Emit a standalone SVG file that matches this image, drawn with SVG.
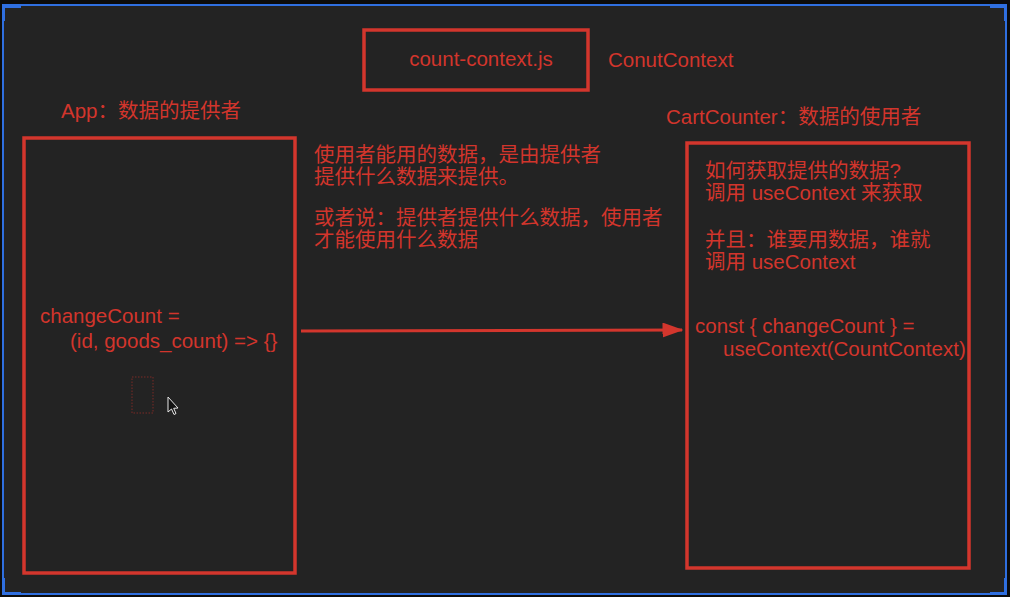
<svg xmlns="http://www.w3.org/2000/svg" width="1010" height="597" viewBox="0 0 1010 597">
  <defs>
    <style>
      .c { font-family: "Liberation Sans", "Noto Sans CJK SC", sans-serif; font-size: 20.5px; fill: #d2352c; }
      .box { fill: none; stroke: #d3362d; stroke-width: 3.5; }
      .frame { fill: none; stroke: #2f6fe0; stroke-width: 2; }
    </style>
    <marker id="ah" viewBox="0 0 14 10" refX="13" refY="5" markerWidth="7" markerHeight="5" markerUnits="strokeWidth" orient="auto">
      <path d="M0,0 L14,5 L0,10 z" fill="#d3362d"/>
    </marker>
  </defs>

  <rect x="0" y="0" width="1010" height="597" fill="#0c0c0c"/>
  <rect x="3" y="5" width="1003" height="589" fill="#232323"/>
  <rect class="frame" x="3" y="5" width="1003" height="589"/>
  <rect x="3" y="5" width="18" height="3" fill="#2f6fe0"/>
  <rect x="3" y="5" width="2" height="16" fill="#2f6fe0"/>
  <rect x="990" y="5" width="16" height="3" fill="#2f6fe0"/>
  <rect x="1004" y="5" width="2" height="16" fill="#2f6fe0"/>
  <rect x="3" y="578" width="2" height="16" fill="#2f6fe0"/>
  <rect x="3" y="592" width="18" height="2" fill="#2f6fe0"/>
  <rect x="1004" y="578" width="2" height="16" fill="#2f6fe0"/>
  <rect x="990" y="592" width="16" height="2" fill="#2f6fe0"/>

  <g id="count-context">
    <rect class="box" x="364" y="30" width="224" height="60"/>
    <text class="c" x="481" y="66" text-anchor="middle">count-context.js</text>
    <text class="c" x="608" y="67">ConutContext</text>
  </g>

  <g id="app">
    <text class="c" x="61" y="118">App：数据的提供者</text>
    <rect class="box" x="24" y="138" width="271" height="435"/>
    <text class="c" x="40" y="323">changeCount =</text>
    <text class="c" x="70" y="348">(id, goods_count) =&gt; {}</text>
    <rect x="132" y="377" width="21" height="36" fill="none" stroke="#7a2a26" stroke-width="1" stroke-dasharray="1.5 1.5"/>
    <path d="M168,397 L168,412 L171.5,409 L174,414.5 L176,413.5 L173.7,408.3 L178,408 Z" fill="#111" stroke="#e8e8e8" stroke-width="1"/>
  </g>

  <g id="note">
    <text class="c" x="314" y="162">使用者能用的数据，是由提供者</text>
    <text class="c" x="314" y="184">提供什么数据来提供。</text>
    <text class="c" x="314" y="225">或者说：提供者提供什么数据，使用者</text>
    <text class="c" x="314" y="247">才能使用什么数据</text>
  </g>

  <g id="cart-counter">
    <text class="c" x="666" y="124">CartCounter：数据的使用者</text>
    <rect class="box" x="687" y="143" width="282" height="425"/>
    <text class="c" x="705" y="178">如何获取提供的数据?</text>
    <text class="c" x="705" y="200">调用 useContext 来获取</text>
    <text class="c" x="705" y="247">并且：谁要用数据，谁就</text>
    <text class="c" x="705" y="269">调用 useContext</text>
    <text class="c" x="695" y="333">const { changeCount } =</text>
    <text class="c" x="723" y="356">useContext(CountContext)</text>
  </g>

  <g id="connectors">
    <line x1="301" y1="331" x2="682" y2="330" stroke="#d3362d" stroke-width="3" marker-end="url(#ah)"/>
  </g>
</svg>
